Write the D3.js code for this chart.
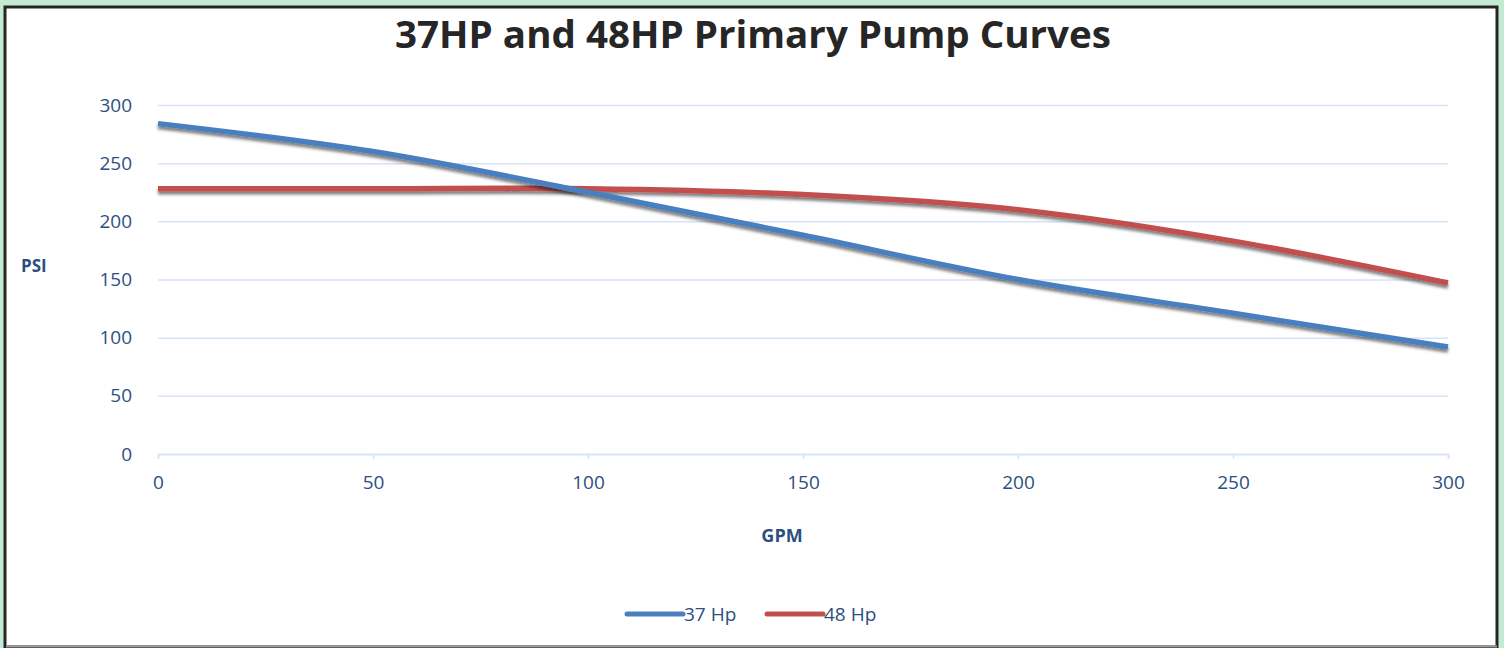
<!DOCTYPE html>
<html>

<head>
    <title>Pump Curves</title>
    <script src="https://d3js.org/d3.v7.min.js"></script>
    <style>
        body { margin: 0; background: #c3ebd3; }
    </style>
</head>

<body>

    <svg width="1504" height="648" id="mainSvg"></svg>
    <script>
        // data
        const gpm = [0, 50, 100, 150, 200, 250, 300];
        const hp37 = [284, 260, 225, 188, 150, 121, 92];
        const hp48 = [228, 228, 228, 223, 210, 183, 147];
        const yTicks = [0, 50, 100, 150, 200, 250, 300];
        const seriesNames = ["37 Hp", "48 Hp"];
        const seriesColors = ["#4a7ebf", "#c0504d"];

        const svg = d3.select("#mainSvg");
        const margin = { top: 105, right: 56, bottom: 194, left: 158 };
        const width = 1504, height = 648;
        const innerWidth = width - margin.left - margin.right;
        const innerHeight = height - margin.top - margin.bottom;

        // frame
        svg.append("rect").attr("x", 0).attr("y", 0).attr("width", width).attr("height", height).attr("fill", "#c3ebd3");
        svg.append("rect").attr("x", 5).attr("y", 7).attr("width", 1492).attr("height", 640)
            .attr("fill", "#fff").attr("stroke", "#262626").attr("stroke-width", 3);
        svg.append("line").attr("x1", 6).attr("x2", 1497).attr("y1", 646.5).attr("y2", 646.5)
            .attr("stroke", "#9a9a9a").attr("stroke-width", 2);

        const defs = svg.append("defs");
        defs.append("filter").attr("id", "shadow")
            .attr("x", "-5%").attr("y", "-20%").attr("width", "110%").attr("height", "160%")
            .append("feDropShadow")
            .attr("dx", 0).attr("dy", 3).attr("stdDeviation", 1.7)
            .attr("flood-color", "#000").attr("flood-opacity", 0.5);

        const g = svg.append("g").attr("transform", `translate(${margin.left}, ${margin.top})`);

        const x = d3.scaleLinear().domain([0, 300]).range([0, innerWidth]);
        const y = d3.scaleLinear().domain([0, 300]).range([innerHeight, 0]);

        // grid + y labels
        g.append("g")
            .attr("font-family", "Open Sans, sans-serif")
            .attr("font-size", 19)
            .call(d3.axisLeft(y).tickValues(yTicks).tickSize(-innerWidth).tickPadding(26))
            .call(a => a.attr("font-size", 19).attr("font-family", "Open Sans, sans-serif"))
            .call(a => a.select(".domain").remove())
            .call(a => a.selectAll("line").attr("stroke", "#d6e3f5").attr("stroke-width", 1.5))
            .call(a => a.selectAll("text").attr("fill", "#2d4f7f"));

        g.append("g")
            .attr("transform", `translate(0, ${innerHeight})`)
            .call(d3.axisBottom(x).tickValues(gpm).tickSize(5).tickPadding(17))
            .call(a => a.attr("font-size", 19).attr("font-family", "Open Sans, sans-serif"))
            .call(a => a.select(".domain").attr("stroke", "#d6e3f5").attr("stroke-width", 1.5))
            .call(a => a.selectAll("line").attr("stroke", "#d6e3f5").attr("stroke-width", 1.5))
            .call(a => a.selectAll("text").attr("fill", "#2d4f7f"));

        // curves
        const line = d3.line()
            .x((d, i) => x(gpm[i]))
            .y(d => y(d))
            .curve(d3.curveCardinal.tension(0));

        const series = [hp37, hp48];
        [1, 0].forEach(i => {
            g.append("path")
                .datum(series[i])
                .attr("d", line)
                .attr("fill", "none")
                .attr("stroke", seriesColors[i])
                .attr("stroke-width", 5.5)
                .attr("filter", "url(#shadow)");
        });

        // title and axis labels
        svg.append("text")
            .attr("x", 753).attr("y", 48)
            .attr("text-anchor", "middle")
            .attr("font-family", "Open Sans, sans-serif")
            .attr("font-weight", "bold")
            .attr("font-size", 37)
            .attr("textLength", 716)
            .attr("lengthAdjust", "spacingAndGlyphs")
            .attr("fill", "#262626")
            .text("37HP and 48HP Primary Pump Curves");

        svg.append("text")
            .attr("x", 21).attr("y", 272)
            .attr("font-family", "Open Sans, sans-serif")
            .attr("font-weight", "bold")
            .attr("font-size", 17)
            .attr("fill", "#2d4f7f")
            .text("PSI");

        svg.append("text")
            .attr("x", 782).attr("y", 542)
            .attr("text-anchor", "middle")
            .attr("font-family", "Open Sans, sans-serif")
            .attr("font-weight", "bold")
            .attr("font-size", 18)
            .attr("fill", "#2d4f7f")
            .text("GPM");

        // legend
        const legendX = [627, 767];
        const legend = svg.append("g");
        seriesNames.forEach((name, i) => {
            legend.append("line")
                .attr("x1", legendX[i]).attr("x2", legendX[i] + 56)
                .attr("y1", 614).attr("y2", 614)
                .attr("stroke", seriesColors[i]).attr("stroke-width", 5)
                .attr("stroke-linecap", "round");
            legend.append("text")
                .attr("x", legendX[i] + 57).attr("y", 621)
                .attr("font-family", "Open Sans, sans-serif")
                .attr("font-size", 19)
                .attr("fill", "#2d4f7f")
                .text(name);
        });
    </script>
</body>

</html>
